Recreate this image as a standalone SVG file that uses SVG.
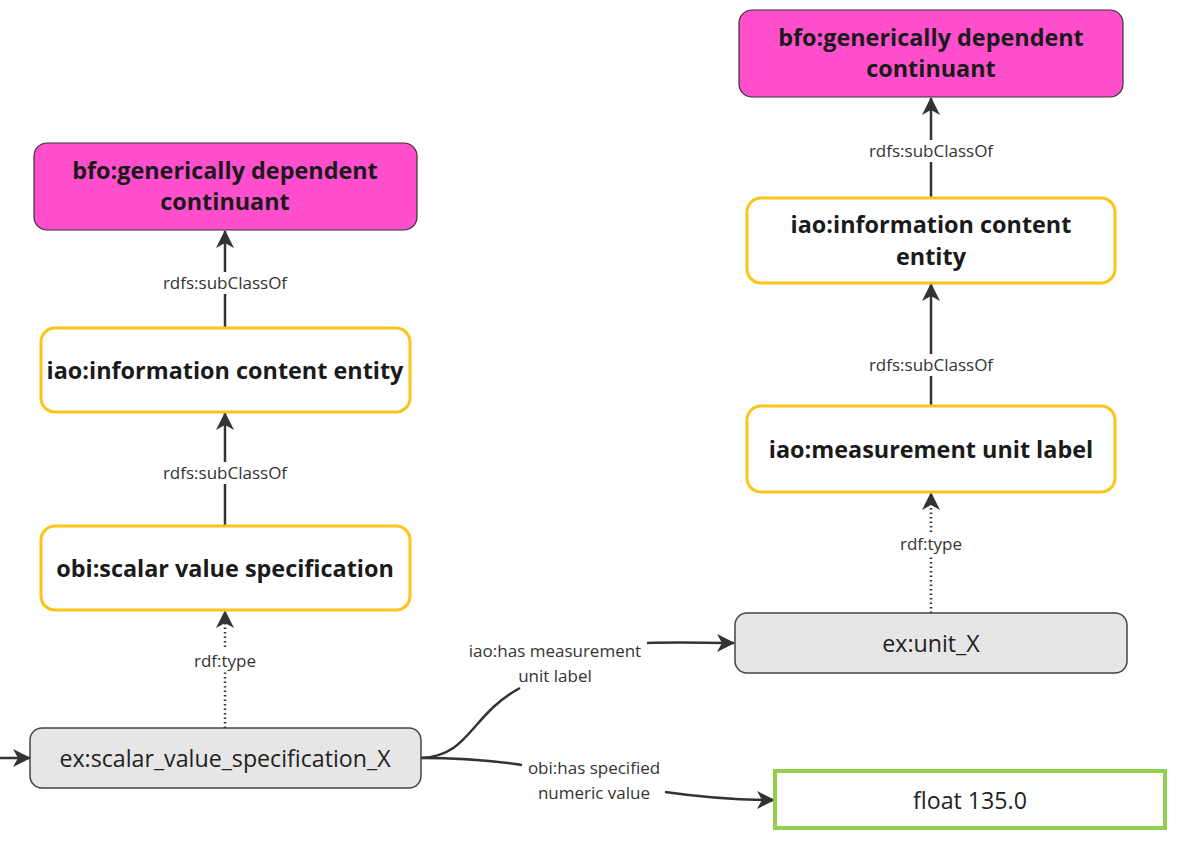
<svg xmlns="http://www.w3.org/2000/svg" width="1186" height="842" viewBox="0 0 1186 842">
<style>
.t{font-family:"Open Sans","Noto Sans","Liberation Sans",sans-serif;fill:#1a1a1a;text-anchor:middle}
.b{font-weight:bold;font-size:23.4px}
.r{font-size:23.2px;fill:#222}
.l{font-size:17px;fill:#333}
.pink{fill:#ff4fcd;stroke:#333;stroke-width:1.2}
.yel{fill:#fff;stroke:#fcc419;stroke-width:3}
.gray{fill:#e6e6e6;stroke:#444;stroke-width:1.5}
.grn{fill:#fff;stroke:#8fd14f;stroke-width:4}
.c{fill:none;stroke:#333;stroke-width:2.5}
.d{fill:none;stroke:#333;stroke-width:2.5;stroke-dasharray:1.5 3}
</style>
<defs>
<marker id="a" viewBox="0 0 18 18" refX="17" refY="9" markerWidth="18" markerHeight="18" markerUnits="userSpaceOnUse" orient="auto">
<path d="M0,0 L18,9 L0,18 L5,9 Z" fill="#333"/>
</marker>
</defs>
<rect width="1186" height="842" fill="#fff"/>
<g id="connectors">
<line class="c" x1="225" y1="328" x2="225" y2="231" marker-end="url(#a)"/>
<rect x="155" y="272" width="140" height="22" fill="#fff"/>
<text class="t l" x="225" y="289">rdfs:subClassOf</text>
<line class="c" x1="225" y1="526" x2="225" y2="413" marker-end="url(#a)"/>
<rect x="155" y="462" width="140" height="22" fill="#fff"/>
<text class="t l" x="225" y="479">rdfs:subClassOf</text>
<line class="d" x1="225" y1="728" x2="225" y2="611" marker-end="url(#a)"/>
<rect x="187" y="650" width="76" height="22" fill="#fff"/>
<text class="t l" x="225" y="667">rdf:type</text>
<line class="c" x1="931" y1="198" x2="931" y2="98" marker-end="url(#a)"/>
<rect x="861" y="140" width="140" height="22" fill="#fff"/>
<text class="t l" x="931" y="157">rdfs:subClassOf</text>
<line class="c" x1="931" y1="406" x2="931" y2="284" marker-end="url(#a)"/>
<rect x="861" y="354" width="140" height="22" fill="#fff"/>
<text class="t l" x="931" y="371">rdfs:subClassOf</text>
<line class="d" x1="931" y1="613" x2="931" y2="493" marker-end="url(#a)"/>
<rect x="893" y="533" width="76" height="22" fill="#fff"/>
<text class="t l" x="931" y="550">rdf:type</text>
<line class="c" x1="0" y1="758" x2="30" y2="758" marker-end="url(#a)"/>
<path class="c" d="M421,758 C470,756 470,715 520,688"/>
<path class="c" d="M647,643 C680,642 705,643 734,643" marker-end="url(#a)"/>
<text class="t l" x="555" y="657">iao:has measurement</text>
<text class="t l" x="555" y="682">unit label</text>
<path class="c" d="M421,758 C460,758 490,760 522,765"/>
<path class="c" d="M665,792 C700,797 730,800 774,800" marker-end="url(#a)"/>
<text class="t l" x="594" y="774">obi:has specified</text>
<text class="t l" x="594" y="799">numeric value</text>
</g>
<g id="n1"><rect class="pink" x="34" y="143" width="383" height="87" rx="13"/>
<text class="t b" x="225" y="179">bfo:generically dependent</text>
<text class="t b" x="225" y="210">continuant</text></g>
<g id="n2"><rect class="yel" x="41" y="328" width="369" height="84" rx="14"/>
<text class="t b" x="225" y="379">iao:information content entity</text></g>
<g id="n3"><rect class="yel" x="41" y="526" width="369" height="84" rx="14"/>
<text class="t b" x="225" y="577">obi:scalar value specification</text></g>
<g id="n4"><rect class="gray" x="30" y="728" width="391" height="60" rx="12"/>
<text class="t r" x="225" y="767">ex:scalar_value_specification_X</text></g>
<g id="n5"><rect class="pink" x="739" y="10" width="384" height="87" rx="13"/>
<text class="t b" x="931" y="46">bfo:generically dependent</text>
<text class="t b" x="931" y="77">continuant</text></g>
<g id="n6"><rect class="yel" x="747" y="198" width="368" height="85" rx="14"/>
<text class="t b" x="931" y="233">iao:information content</text>
<text class="t b" x="931" y="265">entity</text></g>
<g id="n7"><rect class="yel" x="747" y="406" width="368" height="86" rx="14"/>
<text class="t b" x="931" y="458">iao:measurement unit label</text></g>
<g id="n8"><rect class="gray" x="735" y="613" width="392" height="60" rx="12"/>
<text class="t r" x="931" y="652">ex:unit_X</text></g>
<g id="n9"><rect class="grn" x="775" y="771" width="390" height="57"/>
<text class="t r" x="970" y="809">float 135.0</text></g>
</svg>
